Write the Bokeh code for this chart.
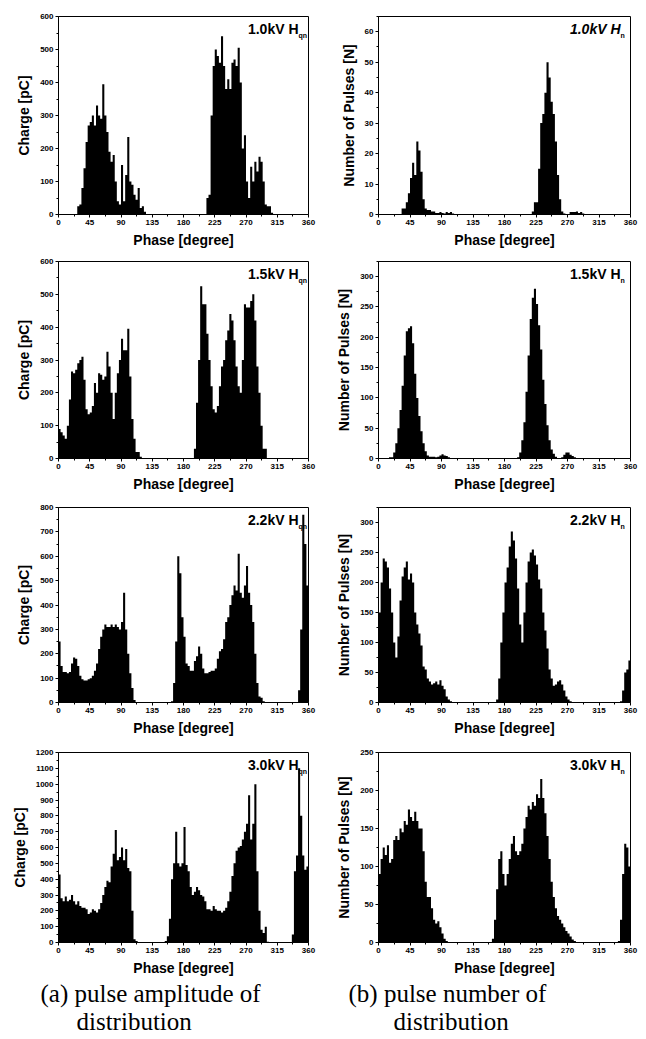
from bokeh.plotting import figure
from bokeh.layouts import column, row
from bokeh.models import FixedTicker, Label, ColumnDataSource, Range1d
from bokeh.embed import file_html
from bokeh.resources import INLINE
from bokeh.core.properties import value

# ---------------- data (3-degree phase bins) ----------------
PHASE = list(range(0, 360, 3))
BIN = 3

A1 = [0, 0, 0, 0, 0, 0, 0, 0, 0, 25,
      30, 80, 140, 220, 270, 280, 300, 270, 330, 300,
      290, 395, 300, 250, 190, 160, 180, 100, 40, 30,
      150, 40, 120, 235, 100, 90, 60, 45, 80, 20,
      25, 8, 0, 0, 0, 0, 0, 0, 0, 0,
      0, 0, 0, 0, 0, 0, 0, 0, 0, 0,
      0, 0, 0, 0, 0, 0, 0, 0, 0, 0,
      0, 50, 60, 300, 450, 500, 480, 460, 540, 450,
      380, 410, 380, 460, 470, 450, 505, 400, 200, 240,
      100, 50, 145, 100, 160, 130, 175, 160, 100, 30,
      25, 25, 5, 0, 0, 0, 0, 0, 0, 0,
      0, 0, 0, 0, 0, 0, 0, 0, 0, 0]

B1 = [0, 0, 0, 0, 0, 0, 0, 0, 0, 0,
      0, 2, 2, 4, 7, 12, 17, 13, 24, 21,
      14, 5, 2, 1.5, 1.5, 1, 1, 0.5, 0.5, 0.8,
      0.5, 0.3, 0.8, 0.5, 0.8, 0.3, 0, 0, 0, 0,
      0, 0, 0, 0, 0, 0, 0, 0, 0, 0,
      0, 0, 0, 0, 0, 0, 0, 0, 0, 0,
      0, 0, 0, 0, 0, 0, 0, 0, 0, 0,
      0, 0, 0, 1, 4, 4, 15, 30, 33, 40,
      50, 45, 37, 33, 24, 13, 5, 1, 0.3, 0,
      0, 0.8, 0.8, 0.8, 1, 0.5, 0.8, 0.3, 0, 0,
      0, 0, 0, 0, 0, 0, 0, 0, 0, 0,
      0, 0, 0, 0, 0, 0, 0, 0, 0, 0]

A2 = [90, 80, 70, 60, 100, 180, 265, 260, 270, 290,
      300, 310, 240, 150, 135, 140, 160, 230, 200, 260,
      255, 240, 250, 325, 280, 200, 120, 200, 260, 300,
      365, 330, 330, 395, 250, 120, 60, 20, 20, 5,
      0, 0, 0, 0, 0, 0, 0, 0, 0, 0,
      0, 0, 0, 0, 0, 0, 0, 0, 0, 0,
      0, 0, 0, 0, 0, 30, 170, 300, 525, 470,
      470, 380, 300, 220, 150, 140, 160, 220, 280, 300,
      360, 390, 440, 420, 360, 280, 220, 200, 300, 470,
      460, 460, 480, 500, 420, 280, 200, 100, 30, 30,
      0, 0, 0, 0, 0, 0, 0, 0, 0, 0,
      0, 0, 0, 0, 0, 0, 0, 0, 0, 0]

B2 = [0, 0, 0, 0, 0, 2, 2, 10, 25, 50,
      80, 120, 170, 210, 215, 218, 190, 140, 100, 70,
      45, 25, 12, 5, 3, 3, 3, 2, 3, 5,
      7, 5, 4, 2, 1, 1, 0.5, 0.5, 0.5, 0.5,
      0.5, 0.5, 0.5, 0.5, 0, 0, 0, 0, 0, 0,
      0, 0, 0, 0, 0, 0, 0, 0, 0, 0,
      0, 0, 0, 0, 0, 0, 2, 10, 30, 60,
      110, 170, 230, 265, 280, 255, 220, 180, 130, 90,
      55, 30, 15, 8, 3, 1, 1, 2, 6, 10,
      10, 6, 4, 2, 0.5, 0, 0, 0, 0, 0,
      0, 0, 0, 0, 0, 0, 0, 0, 0, 0,
      0, 0, 0, 0, 0, 0, 0, 0, 0, 0]

A3 = [250, 150, 125, 125, 120, 125, 160, 185, 180, 150,
      110, 95, 90, 90, 95, 100, 110, 130, 160, 220,
      270, 300, 320, 310, 310, 320, 310, 320, 310, 300,
      330, 450, 300, 200, 120, 60, 10, 0, 0, 0,
      0, 0, 0, 0, 0, 0, 0, 0, 0, 0,
      0, 0, 0, 0, 5, 80, 250, 600, 530, 350,
      270, 160, 150, 130, 130, 170, 190, 230, 200, 140,
      120, 120, 125, 130, 130, 140, 180, 210, 220, 260,
      330, 350, 400, 440, 480, 460, 610, 450, 430, 480,
      560, 450, 400, 330, 200, 80, 25, 20, 5, 0,
      0, 0, 0, 0, 0, 0, 0, 0, 0, 0,
      0, 0, 0, 0, 0, 50, 300, 770, 650, 480]

B3 = [150, 200, 240, 235, 225, 190, 150, 100, 75, 110,
      170, 210, 225, 235, 205, 215, 200, 150, 130, 115,
      95, 60, 55, 40, 35, 30, 32, 35, 30, 37,
      28, 22, 10, 5, 2, 0, 0, 0, 0, 0,
      0, 0, 0, 0, 0, 0, 0, 0, 0, 0,
      0, 0, 0, 0, 0, 0, 5, 40, 100, 150,
      200, 225, 260, 285, 270, 240, 190, 130, 100, 150,
      200, 235, 250, 255, 245, 230, 205, 190, 150, 120,
      90, 55, 40, 28, 30, 35, 37, 30, 20, 10,
      5, 2, 0, 0, 0, 0, 0, 0, 0, 0,
      0, 0, 0, 0, 0, 0, 0, 0, 0, 0,
      0, 0, 0, 0, 0, 2, 20, 50, 55, 70]

A4 = [430, 280, 260, 290, 260, 270, 300, 260, 240, 260,
      230, 220, 220, 210, 180, 190, 210, 200, 190, 210,
      250, 300, 350, 390, 380, 480, 560, 710, 520, 540,
      600, 520, 590, 470, 450, 200, 20, 10, 0, 0,
      0, 0, 0, 0, 0, 0, 0, 0, 0, 0,
      0, 10, 40, 150, 400, 500, 700, 500, 480, 500,
      730, 490, 450, 350, 300, 320, 350, 330, 300, 290,
      260, 210, 210, 200, 230, 210, 200, 200, 190, 200,
      220, 260, 320, 420, 500, 580, 600, 610, 650, 700,
      750, 930, 650, 750, 1000, 450, 200, 80, 60, 100,
      5, 0, 0, 0, 0, 0, 0, 0, 0, 0,
      0, 0, 50, 450, 550, 1100, 800, 550, 460, 480]

B4 = [90, 110, 125, 115, 128, 105, 110, 135, 140, 135,
      150, 145, 160, 155, 175, 165, 160, 172, 160, 150,
      150, 120, 80, 60, 60, 45, 30, 25, 28, 20,
      12, 5, 2, 0, 0, 0, 0, 0, 0, 0,
      0, 0, 0, 0, 0, 0, 0, 0, 0, 0,
      0, 0, 0, 0, 5, 30, 70, 110, 120, 90,
      75, 90, 110, 130, 140, 120, 115, 120, 130, 150,
      165, 180, 175, 185, 180, 195, 190, 215, 190, 170,
      140, 110, 80, 60, 45, 35, 30, 25, 20, 15,
      12, 8, 4, 2, 0.5, 0, 0, 0, 0, 0,
      0, 0, 0, 0, 0, 0, 0, 0, 0, 0,
      0, 0, 0, 0, 2, 30, 90, 130, 125, 100]

X_TICKS = [0, 45, 90, 135, 180, 225, 270, 315, 360]
X_LABEL = "Phase [degree]"
Y_LABEL_A = "Charge [pC]"
Y_LABEL_B = "Number of Pulses [N]"

PANELS_A = [
    dict(vals=A1, ymax=600, ystep=100, name="1.0kV H", sub="qn", italic=False),
    dict(vals=A2, ymax=600, ystep=100, name="1.5kV H", sub="qn", italic=False),
    dict(vals=A3, ymax=800, ystep=100, name="2.2kV H", sub="qn", italic=False),
    dict(vals=A4, ymax=1200, ystep=100, name="3.0kV H", sub="qn", italic=False),
]
PANELS_B = [
    dict(vals=B1, ymax=65, ystep=10, name="1.0kV H", sub="n", italic=True),
    dict(vals=B2, ymax=325, ystep=50, name="1.5kV H", sub="n", italic=False),
    dict(vals=B3, ymax=325, ystep=50, name="2.2kV H", sub="n", italic=False),
    dict(vals=B4, ymax=250, ystep=50, name="3.0kV H", sub="n", italic=False),
]

CAPTION_A = ["(a) pulse amplitude of", "distribution"]
CAPTION_B = ["(b) pulse number of", "distribution"]

SANS = "Liberation Sans"
SERIF = "Liberation Serif"

# row geometry: (figure height, border top, border bottom)
ROWS = [(253, 16, 39), (246, 8, 41), (245, 8, 42), (234, 8, 32)]


def make_panel(cfg, ylabel, width, bl, br, h, bt, bb):
    p = figure(width=width, height=h, output_backend="svg", toolbar_location=None,
               x_range=Range1d(0, 360), y_range=Range1d(0, cfg["ymax"]),
               min_border_left=bl, min_border_right=br,
               min_border_top=bt, min_border_bottom=bb)
    p.background_fill_color = "white"
    p.border_fill_color = "white"
    p.outline_line_color = "black"
    p.outline_line_width = 1
    p.xgrid.visible = False
    p.ygrid.visible = False

    # step-shaped filled histogram, one polygon per panel
    xs, ys = [], []
    for ph, v in zip(PHASE, cfg["vals"]):
        xs += [ph, ph + BIN]
        ys += [v, v]
    src = ColumnDataSource(dict(x=xs, y=ys))
    p.varea(x="x", y1=0, y2="y", source=src, fill_color="black")

    yt = list(range(0, int(cfg["ymax"]) + 1, cfg["ystep"]))
    ymin = [v + cfg["ystep"] / 2 for v in yt if v + cfg["ystep"] / 2 <= cfg["ymax"]]
    p.yaxis.ticker = FixedTicker(ticks=yt, minor_ticks=ymin)
    p.xaxis.ticker = FixedTicker(ticks=X_TICKS, minor_ticks=[v + 22.5 for v in X_TICKS[:-1]])

    for ax in (p.xaxis[0], p.yaxis[0]):
        ax.axis_line_color = "black"
        ax.major_tick_line_color = "black"
        ax.minor_tick_line_color = "black"
        ax.major_tick_out = 3
        ax.major_tick_in = 0
        ax.minor_tick_out = 2
        ax.minor_tick_in = 0
        ax.major_label_text_font = SANS
        ax.major_label_text_font_style = "bold"
        ax.major_label_text_font_size = "8px"
        ax.major_label_text_color = "black"
        ax.major_label_standoff = 2
        ax.axis_label_text_font = SANS
        ax.axis_label_text_font_style = "bold"
        ax.axis_label_text_color = "black"
    p.xaxis.axis_label = X_LABEL
    p.xaxis.axis_label_text_font_size = "14px"
    p.xaxis.axis_label_standoff = 4
    p.yaxis.axis_label = ylabel
    p.yaxis.axis_label_text_font_size = "14px"
    p.yaxis.axis_label_standoff = 5

    style = "bold italic" if cfg["italic"] else "bold"
    p.add_layout(Label(x=360, y=cfg["ymax"], x_offset=-10, y_offset=-4,
                       text=cfg["name"], text_align="right", text_baseline="top",
                       text_font=SANS, text_font_style=style, text_font_size="14px",
                       text_color="black"))
    p.add_layout(Label(x=360, y=cfg["ymax"], x_offset=-10, y_offset=-15,
                       text=cfg["sub"], text_align="left", text_baseline="top",
                       text_font=SANS, text_font_style="bold", text_font_size="7px",
                       text_color="black"))
    return p


rows = []
for i in range(4):
    h, bt, bb = ROWS[i]
    pa = make_panel(PANELS_A[i], Y_LABEL_A, 328, 58, 20, h, bt, bb)
    pb = make_panel(PANELS_B[i], Y_LABEL_B, 316, 50, 14, h, bt, bb)
    rows.append(row(pa, pb))

cap = figure(width=644, height=60, output_backend="svg", toolbar_location=None,
             x_range=Range1d(0, 644), y_range=Range1d(0, 60),
             min_border=0)
cap.axis.visible = False
cap.xgrid.visible = False
cap.ygrid.visible = False
cap.outline_line_color = None
cap.text(x=[40, 348], y=[45, 45], text=[CAPTION_A[0], CAPTION_B[0]],
         text_font=value(SERIF), text_font_size="25px", text_baseline="middle",
         text_align="left", text_color="black")
cap.text(x=[76, 393], y=[17, 17], text=[CAPTION_A[1], CAPTION_B[1]],
         text_font=value(SERIF), text_font_size="25px", text_baseline="middle",
         text_align="left", text_color="black")

layout = column(*rows, cap)
open("out.html", "w").write(file_html(layout, INLINE))
